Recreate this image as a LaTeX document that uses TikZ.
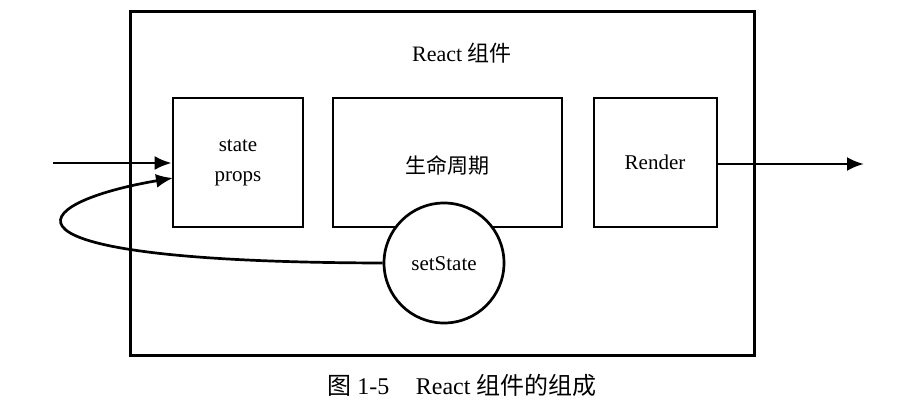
\documentclass[tikz,border=0pt]{standalone}
\usepackage{fontspec}
\setmainfont{Liberation Serif}
\newfontfamily\cjk{Noto Sans CJK SC}
\usetikzlibrary{arrows.meta}
\begin{document}
\begin{tikzpicture}[x=1pt,y=-1pt,
  box/.style={draw,line width=2.7pt,inner sep=0pt},
  lbl/.style={font=\fontsize{21}{30}\selectfont,align=center,inner sep=0pt},
  arr/.style={line width=2.7pt,-{Latex[length=17pt,width=14pt]}}]
\useasboundingbox (0,0) rectangle (898,412);
\node[box,line width=3pt,minimum width=624pt,minimum height=343pt] (outer) at (442,183.5) {};
\node[lbl,font=\fontsize{22}{24}\selectfont] (title) at (462,53) {React {\cjk 组件}};
\node[box,minimum width=130pt,minimum height=129pt] (sp) at (238,162.5) {};
\node[lbl] (sptext) at (238,163) {state\\props};
\node[box,minimum width=229pt,minimum height=129pt] (life) at (447.5,162.5) {};
\node[lbl,font=\fontsize{21}{24}\selectfont\cjk] (lifetext) at (447,165) {生命周期};
\node[box,minimum width=123pt,minimum height=129pt] (render) at (655.5,162.5) {};
\node[lbl] (rendertext) at (655,162) {Render};
\node[box,circle,fill=white,minimum size=120pt] (set) at (444,263) {};
\node[lbl] (settext) at (444,264) {setState};
\coordinate (in) at (53,163);
\coordinate (out) at (864,164);
\draw[arr] (in) -- (sp.west |- in);
\draw[arr] (render.east |- out) -- (out);
\coordinate (fb) at (173,178);
\draw[arr] (set.west) .. controls (-30,262) and (25,203) .. (fb);
\node[lbl,font=\fontsize{24}{28}\selectfont] (cap) at (462,385) {{\cjk 图}\ 1-5\hspace{1.1em}React {\cjk 组件的组成}};
\end{tikzpicture}
\end{document}
